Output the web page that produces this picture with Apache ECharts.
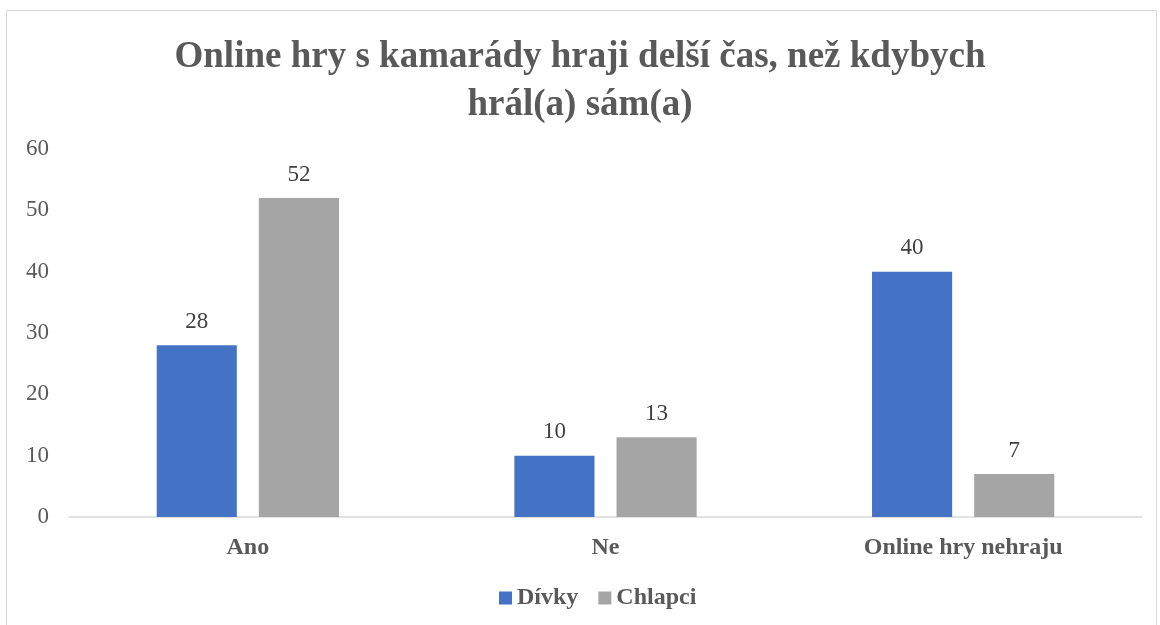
<!DOCTYPE html>
<html><head><meta charset="utf-8">
<script src="https://cdn.jsdelivr.net/npm/echarts@6/dist/echarts.min.js"></script>
<style>html,body{margin:0;padding:0;background:#fff}#c{width:1160px;height:625px}</style>
</head><body><div id="c"></div>
<script>
var categories = ['Ano', 'Ne', 'Online hry nehraju'];
var divky = [28, 10, 40];
var chlapci = [52, 13, 7];
var seriesNames = ['Dívky', 'Chlapci'];
var titleText = 'Online hry s kamarády hraji delší čas, než kdybych\nhrál(a) sám(a)';

var serif = '"Liberation Serif", "Times New Roman", serif';
var chart = echarts.init(document.getElementById('c'));
var labelStyle = {show: true, position: 'top', distance: 12, fontFamily: serif, fontSize: 23, color: '#404040'};
chart.setOption({
  animation: false,
  graphic: [{type: 'rect', shape: {x: 6.5, y: 10.5, width: 1150, height: 620}, style: {fill: 'none', stroke: '#D9D9D9', lineWidth: 1}}],
  title: {text: titleText, left: 'center', top: 28, padding: [5, 5, 5, 25], textStyle: {fontFamily: serif, fontWeight: 'bold', fontSize: 37, color: '#595959', lineHeight: 48}},
  legend: {bottom: 10, left: 494, itemWidth: 13, itemHeight: 13, itemGap: 20, icon: 'rect',
    textStyle: {fontFamily: serif, fontWeight: 'bold', fontSize: 24, color: '#595959'}},
  grid: {left: 69, right: 18, top: 149, bottom: 108},
  xAxis: {type: 'category', data: categories, axisTick: {show: false},
    axisLine: {lineStyle: {color: '#D9D9D9', width: 1.5}},
    axisLabel: {fontFamily: serif, fontWeight: 'bold', fontSize: 24, color: '#595959', margin: 19}},
  yAxis: {type: 'value', min: 0, max: 60, interval: 10, splitLine: {show: false},
    axisLabel: {fontFamily: serif, fontSize: 23, color: '#595959', margin: 20}},
  series: [
    {name: seriesNames[0], type: 'bar', data: divky, barWidth: '22.4%', barGap: '27.5%', itemStyle: {color: '#4472C4'}, label: labelStyle},
    {name: seriesNames[1], type: 'bar', data: chlapci, barWidth: '22.4%', itemStyle: {color: '#A5A5A5'}, label: labelStyle}
  ]
});
</script></body></html>
